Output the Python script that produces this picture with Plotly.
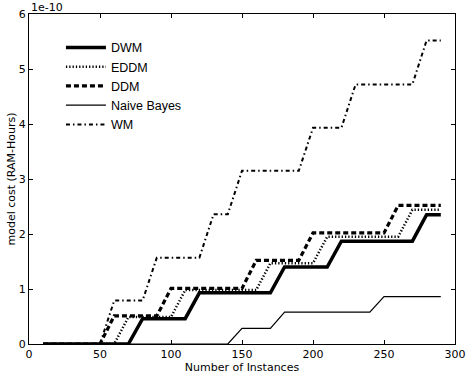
import plotly.graph_objects as go

# Number of instances
instances = [10, 20, 30, 40, 50, 60, 70, 80, 90, 100, 110, 120, 130, 140, 150,
             160, 170, 180, 190, 200, 210, 220, 230, 240, 250, 260, 270, 280, 290]

# model cost in units of 1e-10 RAM-Hours
dwm = [0, 0, 0, 0, 0, 0, 0, 0.46, 0.46, 0.46, 0.46, 0.93, 0.93, 0.93, 0.93,
       0.93, 0.93, 1.40, 1.40, 1.40, 1.40, 1.87, 1.87, 1.87, 1.87, 1.87, 1.87, 2.35, 2.35]
eddm = [0, 0, 0, 0, 0, 0, 0.49, 0.49, 0.49, 0.49, 0.98, 0.98, 0.98, 0.98, 0.98,
        0.98, 1.47, 1.47, 1.47, 1.47, 1.95, 1.95, 1.95, 1.95, 1.95, 1.95, 2.44, 2.44, 2.44]
ddm = [0, 0, 0, 0, 0, 0.51, 0.51, 0.51, 0.51, 1.01, 1.01, 1.01, 1.01, 1.01, 1.01,
       1.52, 1.52, 1.52, 1.52, 2.02, 2.02, 2.02, 2.02, 2.02, 2.02, 2.52, 2.52, 2.52, 2.52]
naive_bayes = [0, 0, 0, 0, 0, 0, 0, 0, 0, 0, 0, 0, 0, 0, 0.285,
               0.285, 0.285, 0.58, 0.58, 0.58, 0.58, 0.58, 0.58, 0.58, 0.86, 0.86, 0.86, 0.86, 0.86]
wm = [0, 0, 0, 0, 0, 0.79, 0.79, 0.79, 1.57, 1.57, 1.57, 1.57, 2.36, 2.36, 3.15,
      3.15, 3.15, 3.15, 3.15, 3.93, 3.93, 3.93, 4.72, 4.72, 4.72, 4.72, 4.72, 5.52, 5.52]

x_ticks = [0, 50, 100, 150, 200, 250, 300]
y_ticks = [0, 1, 2, 3, 4, 5, 6]
offset_label = "1e-10"

series = [
    ("DWM", dwm, dict(color="black", width=3.5, dash="solid")),
    ("EDDM", eddm, dict(color="black", width=2.5, dash="1.3px,2px")),
    ("DDM", ddm, dict(color="black", width=3.2, dash="5px,3px")),
    ("Naive Bayes", naive_bayes, dict(color="black", width=1.2, dash="solid")),
    ("WM", wm, dict(color="black", width=2, dash="4px,3px,1.5px,3px")),
]

fig = go.Figure()
for name, vals, line in series:
    fig.add_trace(go.Scatter(x=instances, y=vals, mode="lines", name=name, line=line))

tick_font = dict(family="DejaVu Sans", size=11, color="black")
fig.update_layout(
    width=469, height=374,
    margin=dict(l=29, r=14, t=14, b=30),
    paper_bgcolor="white", plot_bgcolor="white",
    showlegend=True,
    legend=dict(x=0.075, y=0.943, xanchor="left", yanchor="top", itemwidth=40,
                bgcolor="rgba(0,0,0,0)", borderwidth=0,
                font=dict(family="Liberation Sans", size=12.5, color="black")),
    xaxis=dict(range=[0, 300], tickvals=x_ticks, ticktext=[str(v) for v in x_ticks],
               showgrid=False, zeroline=False, showline=True, linecolor="black",
               linewidth=1, mirror="ticks", ticks="inside", ticklen=4,
               tickcolor="black", tickfont=tick_font, automargin=False,
               title=dict(text="Number of Instances", font=tick_font, standoff=2)),
    yaxis=dict(range=[0, 6], tickvals=y_ticks, ticktext=[str(v) for v in y_ticks],
               showgrid=False, zeroline=False, showline=True, linecolor="black",
               linewidth=1, mirror="ticks", ticks="inside", ticklen=4,
               tickcolor="black", tickfont=tick_font, automargin=False,
               title=dict(text="model cost (RAM-Hours)", font=tick_font, standoff=0)),
    annotations=[dict(text=offset_label, xref="paper", yref="paper", x=0, y=1,
                      xanchor="left", yanchor="bottom", showarrow=False,
                      font=tick_font, yshift=-2)],
)

fig.write_html("out.html", config={"displayModeBar": False},
               post_script="document.body.style.margin='0px';")
